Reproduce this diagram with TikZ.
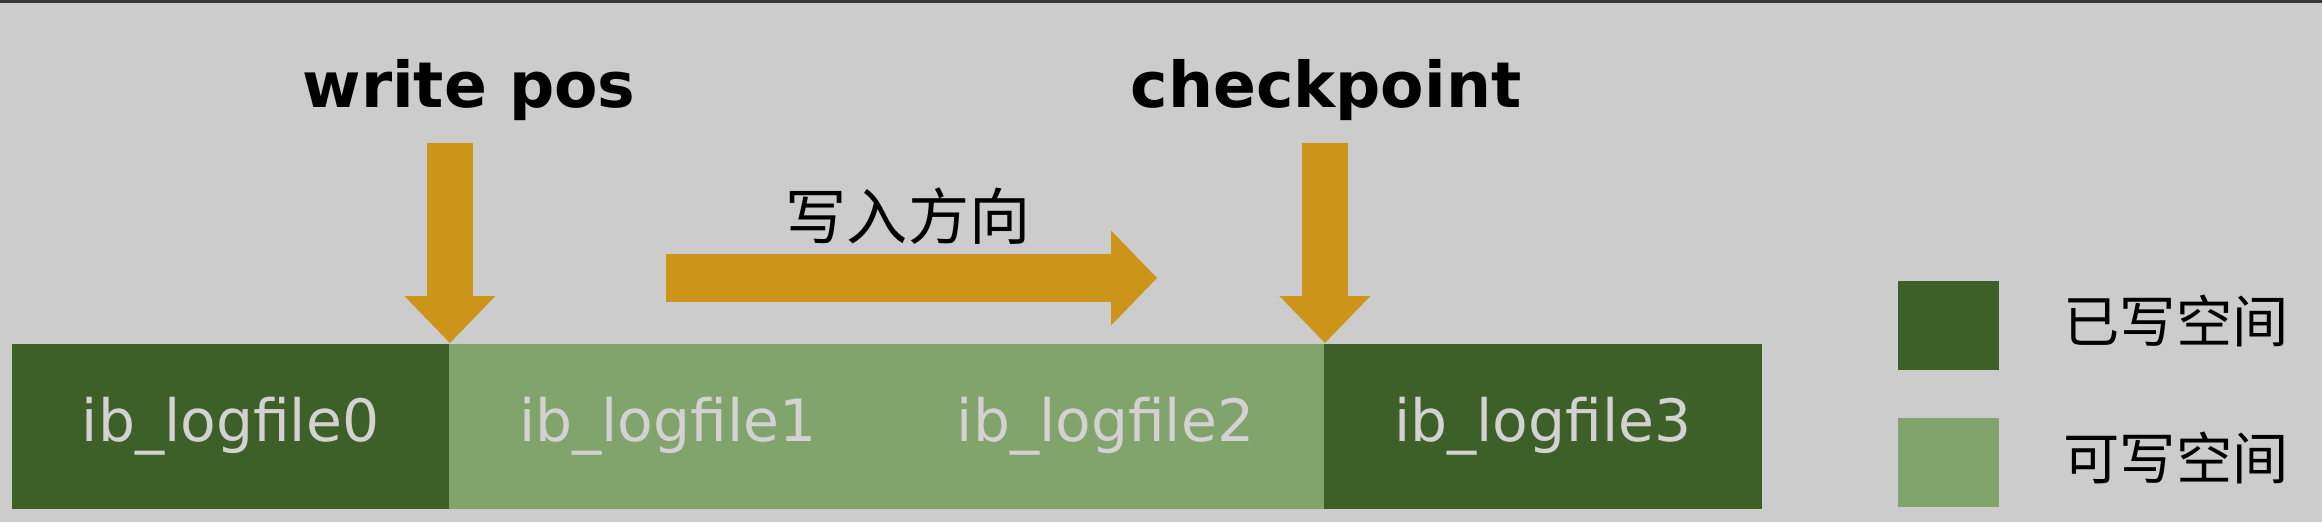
\documentclass[tikz,border=0pt]{standalone}
\usepackage{fontspec}
\setmainfont{DejaVu Sans}
\newfontfamily\cjk{Noto Sans CJK SC}
\usetikzlibrary{arrows.meta}

\definecolor{bgray}{HTML}{CCCCCC}
\definecolor{written}{HTML}{3D5F28}
\definecolor{writable}{HTML}{80A46B}
\definecolor{pointer}{HTML}{CC9418}
\definecolor{filetext}{HTML}{D2D2D2}

\tikzset{
  logfile/.style={minimum width=43.75mm, minimum height=16.5mm, inner sep=0pt,
    anchor=north west, text=filetext, font=\fontsize{16.6}{18}\selectfont},
  marker/.style={anchor=base, font=\fontsize{18}{20}\selectfont\bfseries},
  pointerarrow/.style={draw=pointer, line width=4.6mm,
    -{Triangle[length=4.7mm, width=9.1mm, line width=0pt]}},
  dirarrow/.style={draw=pointer, line width=4.8mm,
    -{Triangle[length=4.6mm, width=9.5mm, line width=0pt]}},
  keybox/.style={minimum width=10.1mm, minimum height=8.9mm, inner sep=0pt},
  keytext/.style={anchor=west, inner sep=0pt, font=\cjk\fontsize{16}{18}\selectfont}
}

\begin{document}
\begin{tikzpicture}[x=0.1mm, y=-0.1mm]

\fill[bgray] (0,0) rectangle (2322,522);
\useasboundingbox (0,0) rectangle (2322,522);
\fill[black!78] (0,0) rectangle (2322,3);

% Fichiers redo log
\foreach \i/\c in {0/written,1/writable,2/writable,3/written}
{
    \node[logfile, fill=\c] (f\i) at (11+\i*437.5,343) {ib\_logfile\i};
}

% Pointeurs
\node[marker] (wp) at (469,107) {write pos};
\node[marker] (cp) at (1326,107) {checkpoint};

\draw[pointerarrow] ([yshift=2cm]f0.north east) -- (f0.north east);
\draw[pointerarrow] ([yshift=2cm]f2.north east) -- (f2.north east);

% Sens d'ecriture
\coordinate (dirS) at (666,278);
\coordinate (dirE) at (1157,278);
\draw[dirarrow] (dirS) -- (dirE);

\node[font=\cjk\fontsize{17.4}{19}\selectfont] (dir) at (908,216)
{写入方向};

% Legende
\node[keybox, fill=written] (kW) at (1948.5,325) {};
\node[keybox, fill=writable] (kF) at (1948.5,462) {};

\node[keytext] (tW) at (2063,321) {已写空间};
\node[keytext] (tF) at (2063,458) {可写空间};

\end{tikzpicture}
\end{document}
